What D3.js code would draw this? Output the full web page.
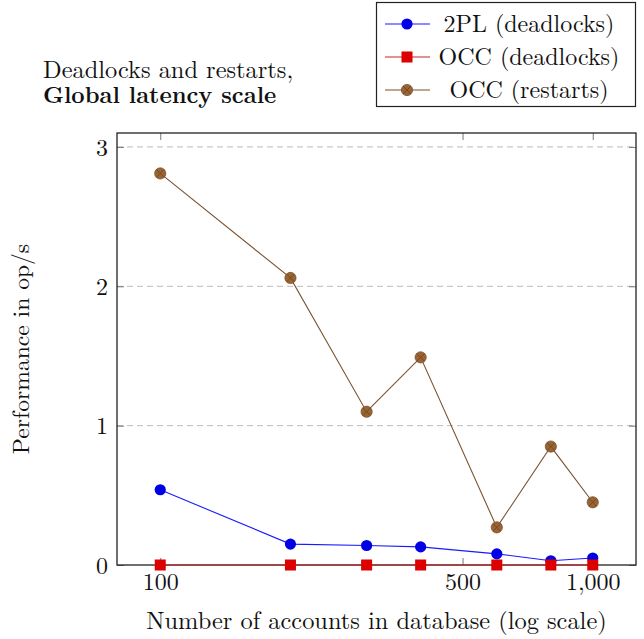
<!DOCTYPE html>
<html><head><meta charset="utf-8">
<script src="https://cdn.jsdelivr.net/npm/d3@7/dist/d3.min.js"></script>
<style>
body{margin:0;background:#fff;}
svg text{font-family:"Latin Modern Roman","CMU Serif","Liberation Serif","DejaVu Serif",serif;fill:#111;}
</style></head><body>
<svg id="c" width="644" height="639"></svg>
<script>
const accounts = [100, 200, 300, 400, 600, 800, 1000];
const twoPLDeadlocks = [0.54, 0.15, 0.14, 0.13, 0.08, 0.03, 0.05];
const occDeadlocks = [0, 0, 0, 0, 0, 0, 0];
const occRestarts = [2.81, 2.06, 1.10, 1.49, 0.27, 0.85, 0.45];
const xTicks = [100, 500, 1000];
const yTicks = [0, 1, 2, 3];
const seriesNames = ["2PL (deadlocks)", "OCC (deadlocks)", "OCC (restarts)"];

const svg = d3.select("#c");
const L = 117, R = 636, T = 133, B = 565;
const x = d3.scaleLog().domain([Math.pow(10, 1.9), Math.pow(10, 3.1)]).range([L, R]);
const y = d3.scaleLinear().domain([0, 3.1]).range([B, T]);

// grid
svg.append("g").selectAll("line").data(yTicks.filter(d => d > 0)).join("line")
  .attr("x1", L).attr("x2", R).attr("y1", d => y(d)).attr("y2", d => y(d))
  .attr("stroke", "#bbb").attr("stroke-width", 1).attr("stroke-dasharray", "6,4");

const fmt = d3.format(",");
const gxb = svg.append("g").attr("transform", `translate(0,${B})`)
  .call(d3.axisBottom(x).tickValues(xTicks).tickFormat(fmt).tickSize(-7).tickPadding(25));
const gxt = svg.append("g").attr("transform", `translate(0,${T})`)
  .call(d3.axisTop(x).tickValues(xTicks).tickFormat("").tickSize(-7));
const gyl = svg.append("g").attr("transform", `translate(${L},0)`)
  .call(d3.axisLeft(y).tickValues(yTicks).tickFormat(d3.format("d")).tickSize(-7).tickPadding(9));
const gyr = svg.append("g").attr("transform", `translate(${R},0)`)
  .call(d3.axisRight(y).tickValues(yTicks).tickFormat("").tickSize(-7));
[gxb, gxt, gyl, gyr].forEach(g => {
  g.attr("font-family", null).attr("font-size", null);
  g.select(".domain").remove();
  g.selectAll(".tick line").attr("stroke", "#777").attr("stroke-width", 1);
  g.selectAll(".tick text").attr("font-size", 24).attr("fill", "#111");
});
gxb.selectAll(".tick text").attr("dy", "0");
gyl.selectAll(".tick text").attr("dy", "0.34em");

// frame
svg.append("rect").attr("x", L).attr("y", T).attr("width", R - L).attr("height", B - T)
  .attr("fill", "none").attr("stroke", "#222").attr("stroke-width", 1.3);

const line = d3.line().x(d => x(d[0])).y(d => y(d[1]));
function series(vals, color) {
  svg.append("path").datum(accounts.map((a, i) => [a, vals[i]]))
    .attr("d", line).attr("fill", "none").attr("stroke", color).attr("stroke-width", 1.1);
}
series(twoPLDeadlocks, "#1a1aff");
svg.append("g").selectAll("circle").data(accounts).join("circle")
  .attr("cx", d => x(d)).attr("cy", (d, i) => y(twoPLDeadlocks[i])).attr("r", 5.6)
  .attr("fill", "#0000e6");
series(occDeadlocks, "#cc2222");
svg.append("g").selectAll("rect").data(accounts).join("rect")
  .attr("x", d => x(d) - 5.5).attr("y", (d, i) => y(occDeadlocks[i]) - 5.5)
  .attr("width", 11).attr("height", 11).attr("fill", "#dd0000");
series(occRestarts, "#7a5230");
function otimes(g, cx, cy, r) {
  g.append("circle").attr("cx", cx).attr("cy", cy).attr("r", r)
    .attr("fill", "#9a6432").attr("stroke", "#7a5230").attr("stroke-width", 0.8);
  const k = r * 0.7;
  g.append("path").attr("d", `M${cx - k},${cy - k}L${cx + k},${cy + k}M${cx - k},${cy + k}L${cx + k},${cy - k}`)
    .attr("stroke", "#6a4425").attr("stroke-width", 0.8);
}
const gr = svg.append("g");
accounts.forEach((a, i) => otimes(gr, x(a), y(occRestarts[i]), 5.6));

// labels
svg.append("text").attr("x", (L + R) / 2).attr("y", 629).attr("text-anchor", "middle")
  .attr("font-size", 24.4).text("Number of accounts in database (log scale)");
svg.append("text").attr("transform", `translate(29,${(T + B) / 2}) rotate(-90)`)
  .attr("text-anchor", "middle").attr("font-size", 23.6).text("Performance in op/s");

// title
svg.append("text").attr("x", 43).attr("y", 78).attr("font-size", 24.4).text("Deadlocks and restarts,");
svg.append("text").attr("x", 43).attr("y", 103).attr("font-size", 23.2).attr("font-weight", "bold").text("Global latency scale");

// legend
const lg = svg.append("g");
lg.append("rect").attr("x", 376.5).attr("y", 2.5).attr("width", 259).attr("height", 104)
  .attr("fill", "#fff").attr("stroke", "#222").attr("stroke-width", 1.2);
const ly = [24, 57, 90];
const lc = ["#1a1aff", "#cc2222", "#7a5230"];
ly.forEach((yy, i) => {
  lg.append("line").attr("x1", 385).attr("x2", 430).attr("y1", yy).attr("y2", yy)
    .attr("stroke", lc[i]).attr("stroke-width", 1.1);
  if (i === 0) lg.append("circle").attr("cx", 407).attr("cy", yy).attr("r", 5.6).attr("fill", "#0000e6");
  if (i === 1) lg.append("rect").attr("x", 401.5).attr("y", yy - 5.5).attr("width", 11).attr("height", 11).attr("fill", "#dd0000");
  if (i === 2) otimes(lg, 407, yy, 5.6);
  lg.append("text").attr("x", 529).attr("y", yy + 7.5).attr("text-anchor", "middle")
    .attr("font-size", 24).text(seriesNames[i]);
});
</script></body></html>
